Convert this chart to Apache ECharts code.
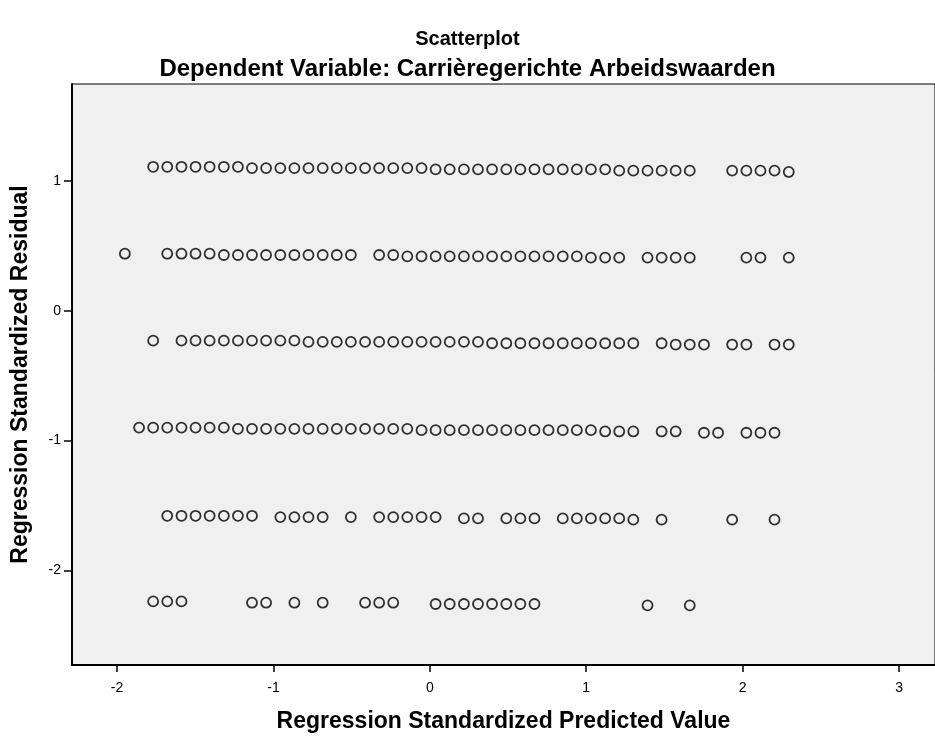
<!DOCTYPE html>
<html>
<head>
<meta charset="utf-8">
<title>Scatterplot</title>
<script src="https://cdn.jsdelivr.net/npm/echarts@6/dist/echarts.min.js"></script>
<style>
  html, body { margin: 0; padding: 0; background: #fff; }
  #chart { width: 935px; height: 742px; }
</style>
</head>
<body>
<div id="chart"></div>
<script>
// tick labels
var xTicks = [-2, -1, 0, 1, 2, 3];
var yTicks = [-2, -1, 0, 1];

// [predicted, residual], one list per band
var band1 = [
  [-1.769,1.11],[-1.679,1.11],[-1.588,1.11],[-1.498,1.11],[-1.408,1.11],[-1.317,1.11],[-1.227,1.11],
  [-1.137,1.10],[-1.047,1.10],[-0.956,1.10],[-0.866,1.10],[-0.776,1.10],[-0.685,1.10],[-0.595,1.10],
  [-0.505,1.10],[-0.414,1.10],[-0.324,1.10],[-0.234,1.10],[-0.144,1.10],[-0.053,1.10],
  [0.037,1.09],[0.127,1.09],[0.218,1.09],[0.308,1.09],[0.398,1.09],[0.489,1.09],[0.579,1.09],
  [0.669,1.09],[0.759,1.09],[0.850,1.09],[0.940,1.09],[1.030,1.09],[1.121,1.09],
  [1.211,1.08],[1.301,1.08],[1.392,1.08],[1.482,1.08],[1.572,1.08],[1.662,1.08],
  [1.933,1.08],[2.024,1.08],[2.114,1.08],[2.204,1.08],[2.295,1.07]
];
var band2 = [
  [-1.950,0.44],
  [-1.679,0.44],[-1.588,0.44],[-1.498,0.44],[-1.408,0.44],[-1.317,0.43],[-1.227,0.43],[-1.137,0.43],
  [-1.047,0.43],[-0.956,0.43],[-0.866,0.43],[-0.776,0.43],[-0.685,0.43],[-0.595,0.43],[-0.505,0.43],
  [-0.324,0.43],[-0.234,0.43],[-0.144,0.42],[-0.053,0.42],[0.037,0.42],[0.127,0.42],[0.218,0.42],
  [0.308,0.42],[0.398,0.42],[0.489,0.42],[0.579,0.42],[0.669,0.42],[0.759,0.42],[0.850,0.42],
  [0.940,0.42],[1.030,0.41],[1.121,0.41],[1.211,0.41],
  [1.392,0.41],[1.482,0.41],[1.572,0.41],[1.662,0.41],
  [2.024,0.41],[2.114,0.41],[2.295,0.41]
];
var band3 = [
  [-1.769,-0.23],
  [-1.588,-0.23],[-1.498,-0.23],[-1.408,-0.23],[-1.317,-0.23],[-1.227,-0.23],[-1.137,-0.23],
  [-1.047,-0.23],[-0.956,-0.23],[-0.866,-0.23],[-0.776,-0.24],[-0.685,-0.24],[-0.595,-0.24],
  [-0.505,-0.24],[-0.414,-0.24],[-0.324,-0.24],[-0.234,-0.24],[-0.144,-0.24],[-0.053,-0.24],
  [0.037,-0.24],[0.127,-0.24],[0.218,-0.24],[0.308,-0.24],[0.398,-0.25],[0.489,-0.25],[0.579,-0.25],
  [0.669,-0.25],[0.759,-0.25],[0.850,-0.25],[0.940,-0.25],[1.030,-0.25],[1.121,-0.25],[1.211,-0.25],
  [1.301,-0.25],
  [1.482,-0.25],[1.572,-0.26],[1.662,-0.26],[1.753,-0.26],
  [1.933,-0.26],[2.024,-0.26],[2.204,-0.26],[2.295,-0.26]
];
var band4 = [
  [-1.859,-0.90],[-1.769,-0.90],[-1.679,-0.90],[-1.588,-0.90],[-1.498,-0.90],[-1.408,-0.90],
  [-1.317,-0.90],[-1.227,-0.91],[-1.137,-0.91],[-1.047,-0.91],[-0.956,-0.91],[-0.866,-0.91],
  [-0.776,-0.91],[-0.685,-0.91],[-0.595,-0.91],[-0.505,-0.91],[-0.414,-0.91],[-0.324,-0.91],
  [-0.234,-0.91],[-0.144,-0.91],[-0.053,-0.92],[0.037,-0.92],[0.127,-0.92],[0.218,-0.92],
  [0.308,-0.92],[0.398,-0.92],[0.489,-0.92],[0.579,-0.92],[0.669,-0.92],[0.759,-0.92],[0.850,-0.92],
  [0.940,-0.92],[1.030,-0.92],[1.121,-0.93],[1.211,-0.93],[1.301,-0.93],
  [1.482,-0.93],[1.572,-0.93],[1.753,-0.94],[1.843,-0.94],
  [2.024,-0.94],[2.114,-0.94],[2.204,-0.94]
];
var band5 = [
  [-1.679,-1.58],[-1.588,-1.58],[-1.498,-1.58],[-1.408,-1.58],[-1.317,-1.58],[-1.227,-1.58],[-1.137,-1.58],
  [-0.956,-1.59],[-0.866,-1.59],[-0.776,-1.59],[-0.685,-1.59],
  [-0.505,-1.59],
  [-0.324,-1.59],[-0.234,-1.59],[-0.144,-1.59],[-0.053,-1.59],[0.037,-1.59],
  [0.218,-1.60],[0.308,-1.60],
  [0.489,-1.60],[0.579,-1.60],[0.669,-1.60],
  [0.850,-1.60],[0.940,-1.60],[1.030,-1.60],[1.121,-1.60],[1.211,-1.60],[1.301,-1.61],
  [1.482,-1.61],[1.933,-1.61],[2.204,-1.61]
];
var band6 = [
  [-1.769,-2.24],[-1.679,-2.24],[-1.588,-2.24],
  [-1.137,-2.25],[-1.047,-2.25],
  [-0.866,-2.25],
  [-0.685,-2.25],
  [-0.414,-2.25],[-0.324,-2.25],[-0.234,-2.25],
  [0.037,-2.26],[0.127,-2.26],[0.218,-2.26],[0.308,-2.26],[0.398,-2.26],[0.489,-2.26],[0.579,-2.26],[0.669,-2.26],
  [1.392,-2.27],[1.662,-2.27]
];

var myChart = echarts.init(document.getElementById('chart'));
var font = '"Liberation Sans", Arial, sans-serif';
var option = {
    animation: false,
    backgroundColor: '#fff',
    title: [
        {
            text: 'Scatterplot',
            left: 'center',
            top: 24,
            textStyle: { fontFamily: font, fontSize: 20, fontWeight: 'bold', color: '#000' }
        },
        {
            text: 'Dependent Variable: Carrièregerichte Arbeidswaarden',
            left: 'center',
            top: 52,
            textStyle: { fontFamily: font, fontSize: 24, fontWeight: 'bold', color: '#000' }
        }
    ],
    grid: {
        left: 72,
        right: 0,
        top: 84,
        bottom: 77,
        show: true,
        backgroundColor: '#f0f0f0',
        borderColor: '#000',
        borderWidth: 1
    },
    xAxis: {
        type: 'value',
        min: -2.288,
        max: 3.23,
        name: 'Regression Standardized Predicted Value',
        nameLocation: 'middle',
        nameGap: 45,
        nameTextStyle: { fontFamily: font, fontSize: 23, fontWeight: 'bold', color: '#000' },
        splitLine: { show: false },
        axisLine: { show: true, onZero: false, lineStyle: { color: '#000', width: 2 } },
        axisTick: { show: true, length: 7, customValues: xTicks, lineStyle: { color: '#000', width: 1.5 } },
        axisLabel: { customValues: xTicks, margin: 16, fontFamily: font, fontSize: 14, color: '#000' }
    },
    yAxis: {
        type: 'value',
        min: -2.73,
        max: 1.748,
        name: 'Regression Standardized Residual',
        nameLocation: 'middle',
        nameGap: 40,
        nameTextStyle: { fontFamily: font, fontSize: 23, fontWeight: 'bold', color: '#000' },
        splitLine: { show: false },
        axisLine: { show: true, onZero: false, lineStyle: { color: '#000', width: 2 } },
        axisTick: { show: true, length: 8, customValues: yTicks, lineStyle: { color: '#000', width: 1.5 } },
        axisLabel: { customValues: yTicks, margin: 11, fontFamily: font, fontSize: 14, color: '#000' }
    },
    series: [band1, band2, band3, band4, band5, band6].map(function (d) {
        return {
            type: 'scatter',
            data: d,
            symbol: 'circle',
            symbolSize: 10,
            itemStyle: {
                color: 'rgba(0,0,0,0)',
                borderColor: '#000',
                borderWidth: 1.8
            }
        };
    })
};
myChart.setOption(option);
</script>
</body>
</html>
